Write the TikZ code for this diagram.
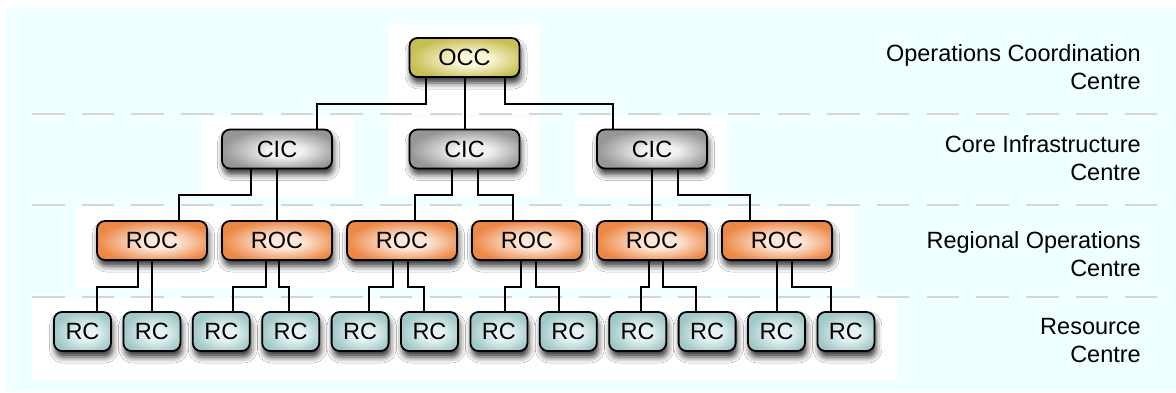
\documentclass[tikz,border=0pt]{standalone}
\usepackage{fontspec}
\setmainfont{Liberation Sans}
\usetikzlibrary{calc,shadows.blur}

\definecolor{bgcyan}{RGB}{240,255,255}
\definecolor{sepgray}{RGB}{214,214,214}
\definecolor{occdark}{RGB}{200,190,84}
\definecolor{occlight}{RGB}{249,247,214}
\definecolor{cicdark}{RGB}{150,150,150}
\definecolor{ciclight}{RGB}{242,242,242}
\definecolor{rocdark}{RGB}{236,136,70}
\definecolor{roclight}{RGB}{253,232,218}
\definecolor{rcdark}{RGB}{160,200,200}
\definecolor{rclight}{RGB}{232,244,244}

% soft glow a little right of and below the middle, darker towards the rim
\pgfdeclareradialshading{occshade}{\pgfpoint{4bp}{-3bp}}{color(0bp)=(occlight); color(8bp)=(occlight); color(27bp)=(occdark); color(50bp)=(occdark)}
\pgfdeclareradialshading{cicshade}{\pgfpoint{4bp}{-3bp}}{color(0bp)=(ciclight); color(8bp)=(ciclight); color(27bp)=(cicdark); color(50bp)=(cicdark)}
\pgfdeclareradialshading{rocshade}{\pgfpoint{4bp}{-3bp}}{color(0bp)=(roclight); color(8bp)=(roclight); color(27bp)=(rocdark); color(50bp)=(rocdark)}
\pgfdeclareradialshading{rcshade}{\pgfpoint{4bp}{-3bp}}{color(0bp)=(rclight); color(8bp)=(rclight); color(27bp)=(rcdark); color(50bp)=(rcdark)}

\tikzset{
  unitbox/.style={draw=black, line width=1.8pt, rounded corners=8pt,
    minimum height=39pt, inner sep=0pt, font=\fontsize{23.5}{28}\selectfont,
    blur shadow={shadow xshift=1.5pt, shadow yshift=-6pt, shadow blur radius=6pt, shadow opacity=80}},
  occbox/.style={unitbox, minimum width=110pt, shading=occshade},
  cicbox/.style={unitbox, minimum width=110pt, shading=cicshade},
  rocbox/.style={unitbox, minimum width=110pt, shading=rocshade},
  rcbox/.style={unitbox, minimum width=57pt, shading=rcshade},
  wire/.style={draw=black, line width=2pt},
  panel/.style={fill=white, draw=none},
  sepline/.style={draw=sepgray, line width=2pt, dash pattern=on 32.5pt off 17.2pt},
  lvl/.style={anchor=base east, align=right, inner sep=0pt, font=\fontsize{23.5}{27.6}\selectfont}
}

% parent exit offset, drop to the bus level, across, down into the child
\newcommand\linkto[4]{\draw[wire] ($(#1.south)+(#2,0)$) -- ++(0,26) -| ($(#3.north)+(#4,0)$);}

\begin{document}
\begin{tikzpicture}[x=1pt,y=-1pt]
\useasboundingbox (0,0) rectangle (1176,392);
\fill[bgcyan] (5,7) rectangle (1176,392);

% white panels behind the groups
\fill[panel] (389,25) rectangle (539,115);
\fill[panel] (202,116) rectangle (354,198);
\fill[panel] (389,117) rectangle (539,197);
\fill[panel] (575,116) rectangle (727,198);
\fill[panel] (76,207) rectangle (854,289);
\fill[panel] (32,298) rectangle (897,381);

% level separators
\foreach \yy in {114,205,297} \draw[sepline] (32,\yy) -- (1157,\yy);

% nodes
\node[occbox] (occ) at (464.5,57.5) {OCC};
\node[cicbox] (cic1) at (277,149) {CIC};
\node[cicbox] (cic2) at (464.5,149) {CIC};
\node[cicbox] (cic3) at (652,149) {CIC};
\foreach \i in {1,...,6}
  \node[rocbox] (roc\i) at ({152+125*(\i-1)},240.5) {ROC};
\foreach \i in {1,...,12}
  \node[rcbox] (rc\i) at ({82.5+69.4*(\i-1)},331.5) {RC};

% connectors
\linkto{occ}{-39}{cic1}{39.5}
\linkto{occ}{0}{cic2}{0}
\linkto{occ}{40}{cic3}{-39.5}

\linkto{cic1}{-26}{roc1}{27}
\linkto{cic1}{0}{roc2}{0}
\linkto{cic2}{-12.5}{roc3}{13}
\linkto{cic2}{13.5}{roc4}{-14}
\linkto{cic3}{0}{roc5}{0}
\linkto{cic3}{26}{roc6}{-27}

\linkto{roc1}{-14}{rc1}{14.5}
\linkto{roc1}{0}{rc2}{0}
\linkto{roc2}{-11}{rc3}{12}
\linkto{roc2}{2}{rc4}{-2}
\linkto{roc3}{-9}{rc5}{8.5}
\linkto{roc3}{6}{rc6}{-5.5}
\linkto{roc4}{-6}{rc7}{6}
\linkto{roc4}{9}{rc8}{-9}
\linkto{roc5}{-3}{rc9}{3}
\linkto{roc5}{11}{rc10}{-11.5}
\linkto{roc6}{0}{rc11}{0}
\linkto{roc6}{15}{rc12}{-15}

% level names
\node[lvl] (lvlocc) at (1141,89.5) {Operations Coordination\\Centre};
\node[lvl] (lvlcic) at (1141,180) {Core Infrastructure\\Centre};
\node[lvl] (lvlroc) at (1141,276) {Regional Operations\\Centre};
\node[lvl] (lvlrc) at (1141,362) {Resource\\Centre};
\end{tikzpicture}
\end{document}
